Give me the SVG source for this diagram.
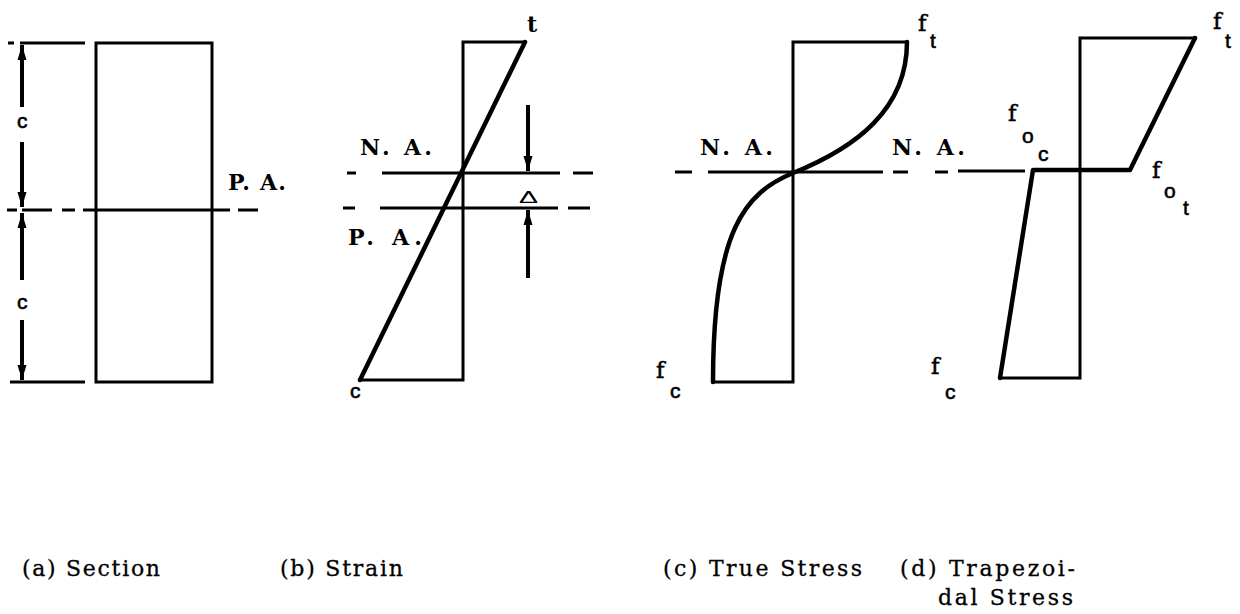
<svg xmlns="http://www.w3.org/2000/svg" width="1240" height="614" viewBox="0 0 1240 614">
<defs>
<style>
.thin{fill:none;stroke:#000;stroke-width:3;stroke-linejoin:miter;stroke-linecap:square}
.thick{fill:none;stroke:#000;stroke-width:4.5;stroke-linejoin:round;stroke-linecap:round}
.dash{fill:none;stroke:#000;stroke-width:3}
.dim{fill:none;stroke:#000;stroke-width:4}
.lbl{font-family:"DejaVu Serif","Liberation Serif",serif;font-weight:bold;font-size:22px;fill:#000}
.sym{font-family:"DejaVu Serif","Liberation Serif",serif;font-size:23px;fill:#000;stroke:#000;stroke-width:0.5}
.sub{font-family:"Liberation Sans",Arial,sans-serif;font-size:21px;fill:#000;stroke:#000;stroke-width:0.6}
.cap{font-family:"DejaVu Serif","Liberation Serif",serif;font-size:22px;fill:#000;stroke:#000;stroke-width:0.3}
</style>
<marker id="ah" markerUnits="userSpaceOnUse" markerWidth="16" markerHeight="10" refX="15" refY="5" orient="auto">
<path d="M0,0.5 L15,5 L0,9.5 z" fill="#000"/>
</marker>
</defs>
<rect width="1240" height="614" fill="#fff"/>

<g id="section">
<rect class="thin" x="96" y="43" width="116" height="339"/>
<text class="lbl" x="228" y="190" textLength="58" lengthAdjust="spacing">P. A.</text>
<text class="sub" x="17" y="128">c</text>
<text class="sub" x="17" y="309">c</text>
</g>

<g id="strain">
<path class="thin" d="M525,42 H463 V380 H360"/>
<path class="thick" d="M525,42 L360,380"/>
<text class="lbl" x="527" y="32" font-size="23">t</text>
<text class="sub" x="350" y="398">c</text>
<text class="lbl" x="360" y="155" textLength="72" lengthAdjust="spacing">N. A.</text>
<text class="lbl" x="348" y="245" textLength="74" lengthAdjust="spacing">P. A.</text>
<text x="519" y="203" font-family="Liberation Sans,Arial,sans-serif" font-size="16" textLength="19" lengthAdjust="spacingAndGlyphs">Δ</text>
</g>

<g id="true-stress">
<path class="thin" d="M907,42 H793 V382 H713"/>
<path class="thick" d="M907,42 C907,110 855,148 793,173 C745,193 713,230 713,382"/>
<text class="lbl" x="700" y="155" textLength="73" lengthAdjust="spacing">N. A.</text>
<text class="sym" x="918" y="31">f</text>
<text class="sub" x="930" y="48">t</text>
<text class="sym" x="656" y="378">f</text>
<text class="sub" x="670" y="398">c</text>
</g>

<g id="trapezoidal-stress">
<path class="thin" d="M1195,38 H1080 V378 H1000"/>
<path class="thick" d="M1195,38 L1130,170 H1033 L1000,378"/>
<text class="lbl" x="892" y="155" textLength="73" lengthAdjust="spacing">N. A.</text>
<text class="sym" x="1213" y="29">f</text>
<text class="sub" x="1225" y="48">t</text>
<text class="sym" x="1008" y="121">f</text>
<text class="sub" x="1022" y="143">o</text>
<text class="sub" x="1038" y="161">c</text>
<text class="sym" x="1152" y="178">f</text>
<text class="sub" x="1164" y="198">o</text>
<text class="sub" x="1183" y="215">t</text>
<text class="sym" x="931" y="374">f</text>
<text class="sub" x="945" y="399">c</text>
</g>

<g id="connectors">
<path class="dash" d="M8,43 H14 M20,43 H85 M10,382 H85"/>
<path class="dash" d="M7,210 H17 M22,210 H52 M62,210 H75 M83,210 H230 M238,210 H258"/>
<path class="dim" d="M22,107 V45" marker-end="url(#ah)"/>
<path class="dim" d="M22,142 V207" marker-end="url(#ah)"/>
<path class="dim" d="M22,280 V213" marker-end="url(#ah)"/>
<path class="dim" d="M22,320 V380" marker-end="url(#ah)"/>
<path class="dash" d="M347,173 H356 M382,173 H560 M573,173 H593"/>
<path class="dash" d="M343,208 H355 M380,208 H558 M568,208 H590"/>
<path class="dim" d="M528,105 V171" marker-end="url(#ah)"/>
<path class="dim" d="M528,278 V210" marker-end="url(#ah)"/>
<path class="dash" d="M675,172 H692 M708,172 H883 M893,172 H908 M935,172 H948 M958,171 H1025"/>
</g>

<g id="captions">
<text class="cap" x="22" y="576" textLength="138" lengthAdjust="spacing">(a) Section</text>
<text class="cap" x="280" y="576" textLength="123" lengthAdjust="spacing">(b) Strain</text>
<text class="cap" x="663" y="576" textLength="199" lengthAdjust="spacing">(c) True Stress</text>
<text class="cap" x="900" y="576" textLength="175" lengthAdjust="spacing">(d) Trapezoi-</text>
<text class="cap" x="938" y="605" textLength="135" lengthAdjust="spacing">dal Stress</text>
</g>
</svg>
